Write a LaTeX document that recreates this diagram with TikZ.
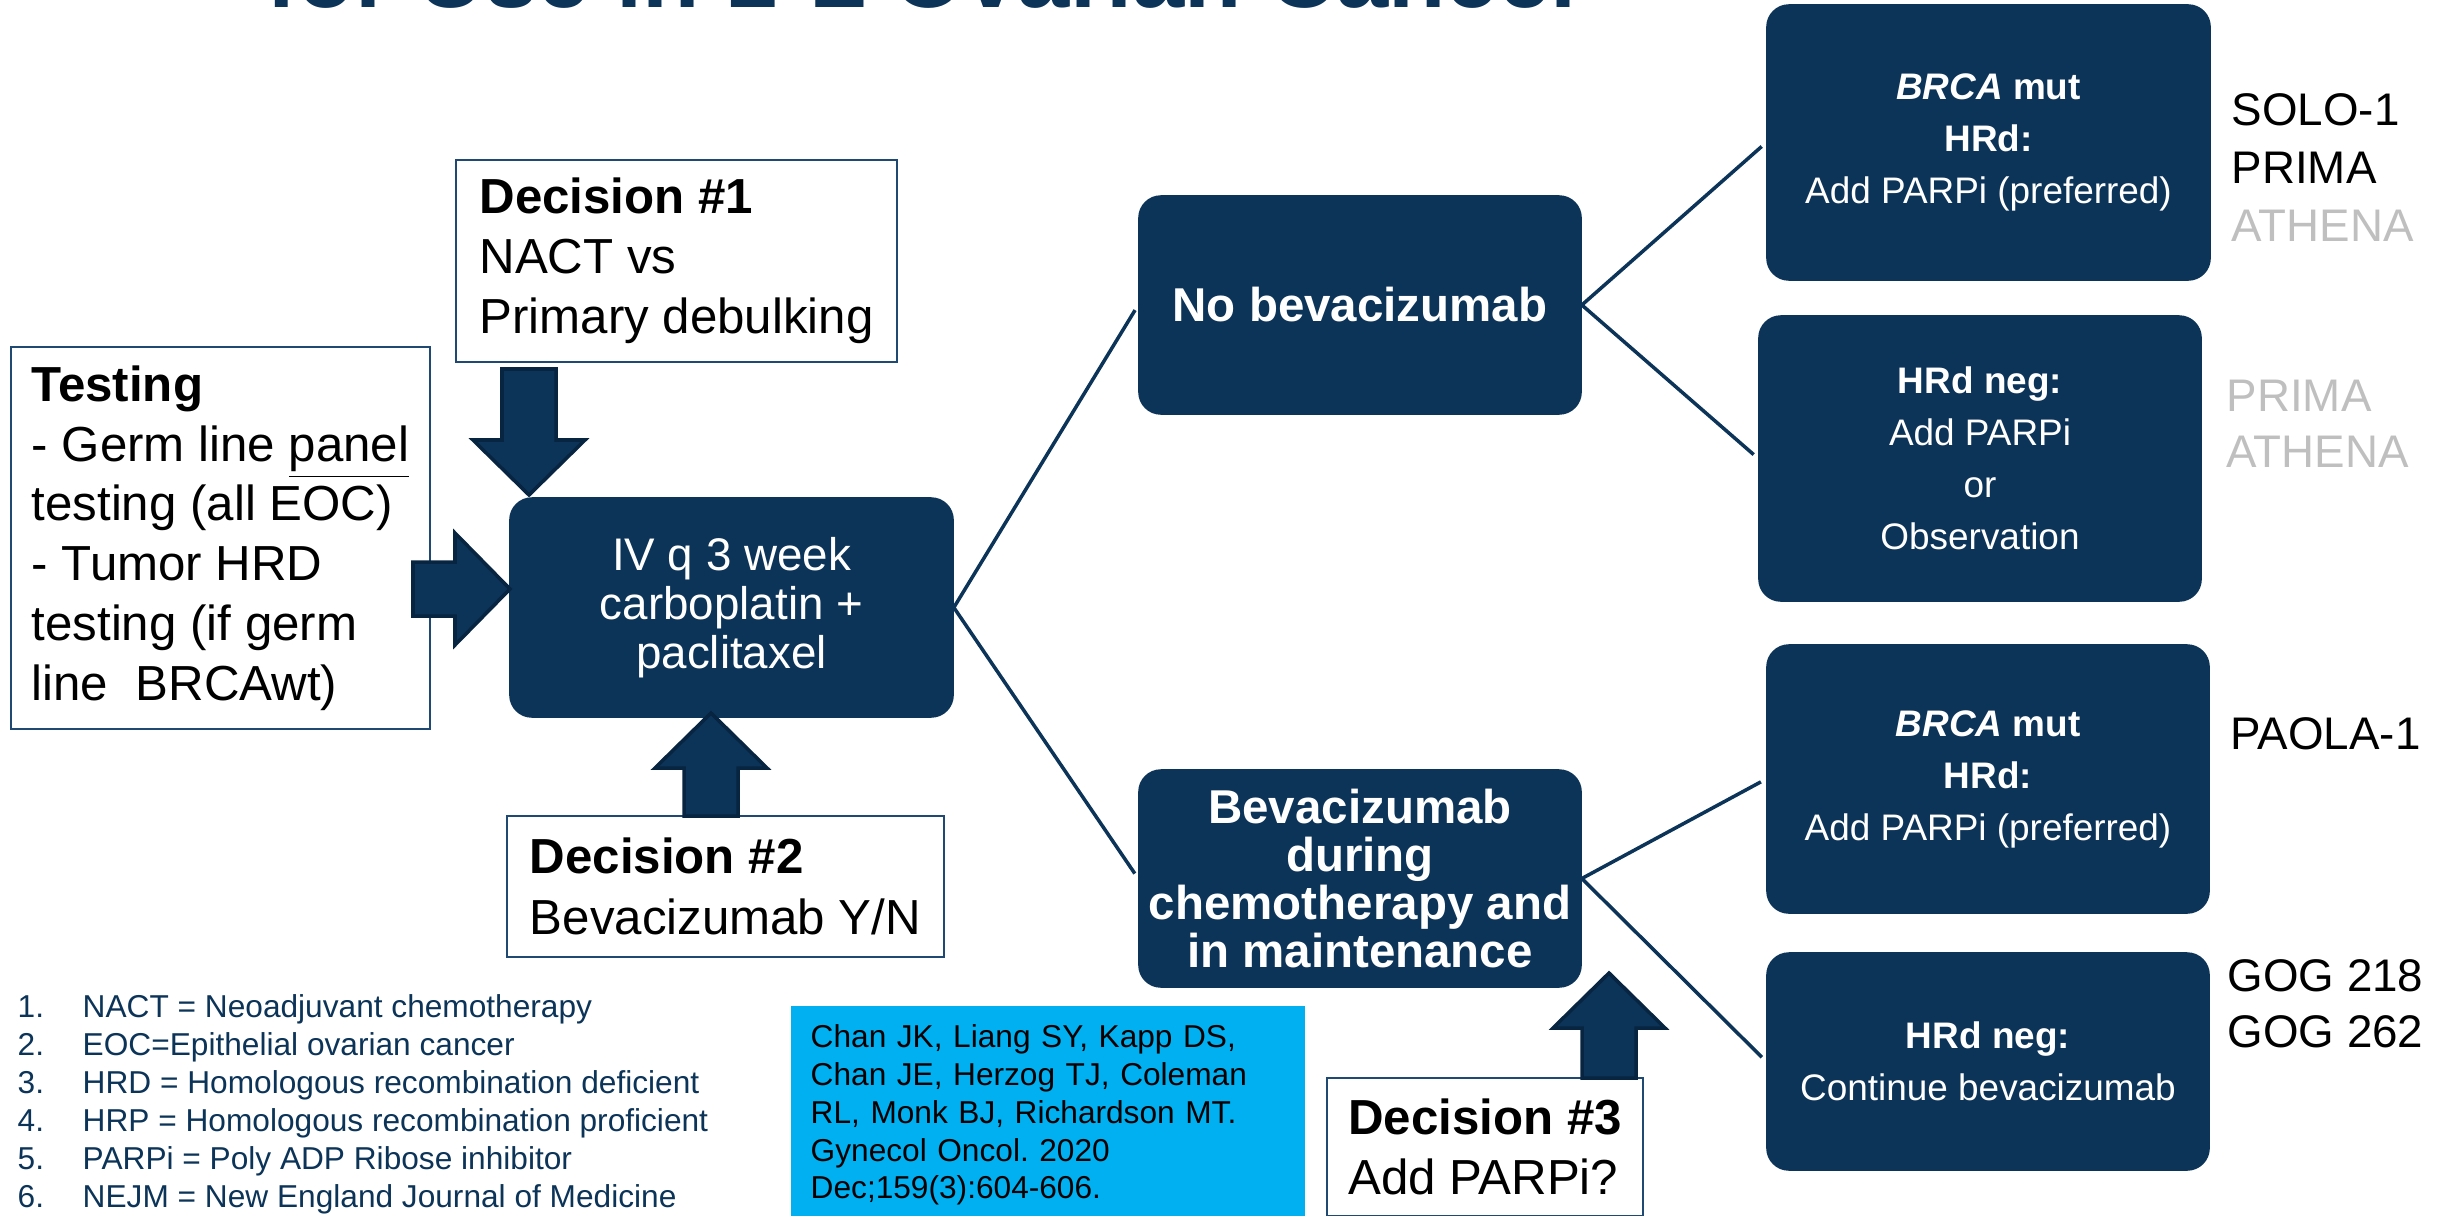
\documentclass[tikz,border=0pt]{standalone}
\usepackage{fontspec}
\setmainfont{Liberation Sans}
\usepackage{xcolor}
\frenchspacing
\definecolor{ovnavy}{RGB}{12,52,88}
\definecolor{arrowedge}{RGB}{7,36,64}
\definecolor{boxedge}{RGB}{31,73,115}
\definecolor{citecyan}{RGB}{0,176,240}
\definecolor{trialgray}{RGB}{191,191,191}

\tikzset{
  darkbox/.style={draw=ovnavy, fill=ovnavy, rounded corners=0.22cm, text=white, align=center, inner sep=0pt},
  maintbox/.style={darkbox, minimum width=4.42cm, font=\fontsize{10.5}{14.8}\selectfont},
  whitebox/.style={draw=boxedge, line width=0.6pt, fill=white, align=left, inner sep=0pt, font=\fontsize{14}{17}\selectfont},
  branch/.style={draw=ovnavy, line width=1pt, shorten >=0.06cm},
  fatarrow/.style={fill=ovnavy, draw=arrowedge, line width=1pt},
  trial/.style={anchor=north west, inner sep=0pt, align=left, font=\fontsize{13}{16}\selectfont}
}

% wide arrow, tip at #1, turned by #2, total length #3
\newcommand{\blockarrow}[3]{%
  \begin{scope}[shift={(#1)}, rotate=#2]
    \filldraw[fatarrow] (0,0) -- (-55,56) -- (-55,27) -- (-#3,27) -- (-#3,-27) -- (-55,-27) -- (-55,-56) -- cycle;
  \end{scope}}

\begin{document}
\begin{tikzpicture}[x=0.01cm, y=-0.01cm]
    \useasboundingbox (0,0) rectangle (2458,1215);
    \clip (0,0) rectangle (2458,1215);

    % Title, cut off at the top
    \node[anchor=base west, inner sep=0pt, text=ovnavy, font=\fontsize{26.7}{30}\selectfont\bfseries] (title) at (266,8) {for Use in 1-L Ovarian Cancer};

    % Testing and decisions
    \node[whitebox, minimum width=4.19cm, minimum height=3.81cm] (testing) at (220.5,538)
        {\textbf{Testing}\\- Germ line \underline{panel}\\testing (all EOC)\\- Tumor HRD\\testing (if germ\\line\ \ BRCAwt)};
    \node[whitebox, minimum width=4.41cm, minimum height=2.01cm] (dec1) at (676.5,261)
        {\textbf{Decision \#1}\\NACT vs\\Primary debulking};
    \node[whitebox, minimum width=4.37cm, minimum height=1.41cm, font=\fontsize{14}{17.5}\selectfont] (dec2) at (725.5,886.5)
        {\textbf{Decision \#2}\\Bevacizumab Y/N};
    \node[whitebox, minimum width=3.16cm, minimum height=1.38cm] (dec3) at (1485,1147)
        {\textbf{Decision \#3}\\Add PARPi?};

    % Chemotherapy and bevacizumab
    \node[darkbox, minimum width=4.43cm, minimum height=2.19cm, font=\fontsize{13}{14}\selectfont] (chemo) at (731.5,607.5)
        {IV q 3 week\\carboplatin +\\paclitaxel};
    \node[darkbox, minimum width=4.42cm, minimum height=2.18cm, font=\fontsize{13.5}{14}\selectfont\bfseries] (nobev) at (1360,305)
        {No bevacizumab};
    \node[darkbox, minimum width=4.42cm, minimum height=2.17cm, font=\fontsize{13.5}{13.7}\selectfont\bfseries] (bev) at (1360,878.5)
        {Bevacizumab\\during\\chemotherapy and\\in maintenance};

    % Maintenance
    \node[maintbox, minimum width=4.43cm, minimum height=2.75cm] (brcaA) at (1988.5,142.5)
        {\textbf{\textit{BRCA} mut}\\\textbf{HRd:}\\Add PARPi (preferred)};
    \node[maintbox, minimum height=2.85cm] (hrdnegA) at (1980,458.5)
        {\textbf{HRd neg:}\\Add PARPi\\or\\Observation};
    \node[maintbox, minimum height=2.68cm] (brcaB) at (1988,779)
        {\textbf{\textit{BRCA} mut}\\\textbf{HRd:}\\Add PARPi (preferred)};
    \node[maintbox, minimum height=2.17cm] (hrdnegB) at (1988,1061.5)
        {\textbf{HRd neg:}\\Continue bevacizumab};

    % Trials
    \node[trial, font=\fontsize{13}{16.5}\selectfont] (trialsA) at (2231,93) {SOLO-1\\PRIMA\\\textcolor{trialgray}{ATHENA}};
    \node[trial, text=trialgray] (trialsB) at (2226,379) {PRIMA\\ATHENA};
    \node[trial] (trialsC) at (2230,717) {PAOLA-1};
    \node[trial] (trialsD) at (2227,959) {GOG 218\\GOG 262};

    % Abbreviations
    \node[anchor=north west, inner sep=0pt, text=ovnavy, font=\fontsize{9}{10.8}\selectfont] (notes) at (17,990) {%
        \begin{tabular}{@{}p{18.5pt}@{}l@{}}
        1. & NACT = Neoadjuvant chemotherapy\\
        2. & EOC=Epithelial ovarian cancer\\
        3. & HRD = Homologous recombination deficient\\
        4. & HRP = Homologous recombination proficient\\
        5. & PARPi = Poly ADP Ribose inhibitor\\
        6. & NEJM = New England Journal of Medicine
        \end{tabular}};

    % Reference
    \node[anchor=north west, fill=citecyan, inner xsep=0.2cm, inner ysep=0.19cm, text width=4.74cm, align=left, font=\fontsize{9}{10.75}\selectfont] (cite) at (790,1005)
        {Chan JK, Liang SY, Kapp DS,\\Chan JE, Herzog TJ, Coleman\\RL, Monk BJ, Richardson MT.\\Gynecol Oncol. 2020\\Dec;159(3):604-606.};

    % Branches
    \draw[branch] (chemo.east) -- (nobev.west);
    \draw[branch] (chemo.east) -- (bev.west);
    \draw[branch] (nobev.east) -- (brcaA.west);
    \draw[branch] (nobev.east) -- (hrdnegA.west);
    \draw[branch] (bev.east) -- (brcaB.west);
    \draw[branch] (bev.east) -- (hrdnegB.west);

    % Wide arrows
    \coordinate (tipA) at (529,495);
    \coordinate (tipB) at (510,589);
    \coordinate (tipC) at (711,713);
    \coordinate (tipD) at (1609,973);
    \blockarrow{tipA}{-90}{126}
    \blockarrow{tipB}{0}{97}
    \blockarrow{tipC}{90}{103}
    \blockarrow{tipD}{90}{105}
\end{tikzpicture}
\end{document}
